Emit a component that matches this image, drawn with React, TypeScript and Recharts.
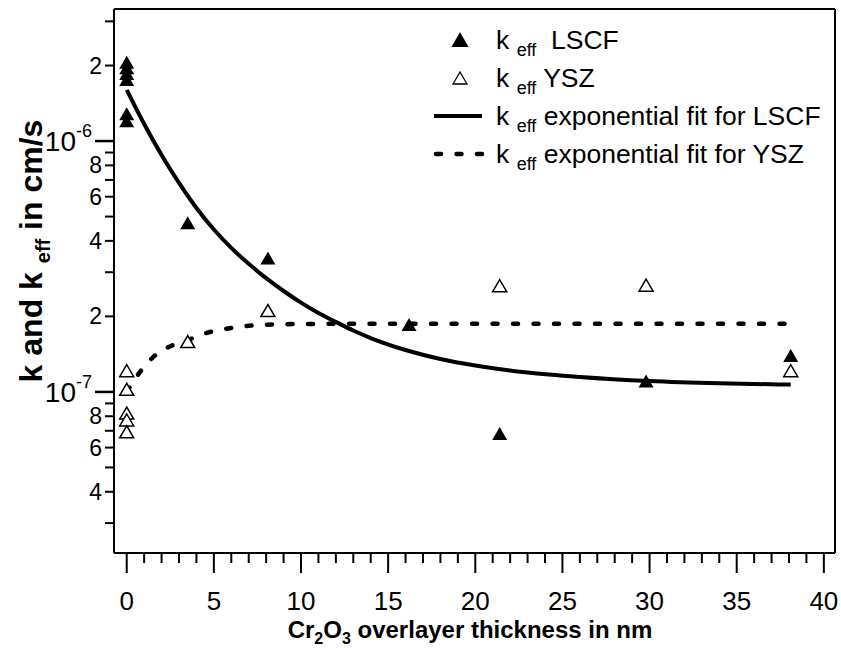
import React from "react";
import { ComposedChart, Scatter, Line, XAxis, YAxis, Legend, Label } from "recharts";

const FONT = '"Liberation Sans", Arial, Helvetica, sans-serif';

// measured k_eff values (cm/s) against Cr2O3 thickness (nm)
const lscfThickness = [0, 0, 0, 0, 0, 0, 3.5, 8.1, 16.2, 21.4, 29.8, 38.1];
const lscfK = [2.05e-6, 1.95e-6, 1.85e-6, 1.75e-6, 1.28e-6, 1.2e-6, 4.7e-7, 3.4e-7, 1.85e-7, 6.8e-8, 1.1e-7, 1.39e-7];
const yszThickness = [0, 0, 0, 0, 0, 3.5, 8.1, 21.4, 29.8, 38.1];
const yszK = [1.21e-7, 1.02e-7, 8.2e-8, 7.7e-8, 6.9e-8, 1.58e-7, 2.1e-7, 2.64e-7, 2.65e-7, 1.21e-7];

// exponential fits
const fitLscfThickness = [0, 1, 2, 3, 4, 5, 6, 7, 8, 9, 10, 11, 12, 13, 14, 16, 18, 20, 23, 26, 30, 34, 38.1];
const fitLscfK = [
  1.6e-6, 1.17e-6, 8.8e-7, 6.81e-7, 5.41e-7, 4.44e-7, 3.75e-7, 3.24e-7, 2.84e-7, 2.525e-7, 2.27e-7, 2.064e-7,
  1.9e-7, 1.757e-7, 1.64e-7, 1.469e-7, 1.353e-7, 1.274e-7, 1.195e-7, 1.147e-7, 1.105e-7, 1.082e-7, 1.07e-7,
];
const fitYszThickness = [0, 0.8, 1.8, 2.7, 3.6, 4.6, 5.8, 6.8, 7.8, 10, 13, 20, 30, 38.1];
const fitYszK = [1.0e-7, 1.21e-7, 1.43e-7, 1.54e-7, 1.62e-7, 1.72e-7, 1.79e-7, 1.83e-7, 1.85e-7, 1.865e-7, 1.87e-7, 1.87e-7, 1.87e-7, 1.87e-7];

const xTicks = Array.from({ length: 41 }, (_, i) => i);
const xTickLabels = [0, 5, 10, 15, 20, 25, 30, 35, 40];
const yTicks = [3e-8, 4e-8, 5e-8, 6e-8, 7e-8, 8e-8, 9e-8, 1e-7, 2e-7, 3e-7, 4e-7, 5e-7, 6e-7, 7e-7, 8e-7, 9e-7, 1e-6, 2e-6, 3e-6];
const yTickLabels = ["", "4", "", "6", "", "8", "", "10^-7", "2", "", "4", "", "6", "", "8", "", "10^-6", "2", ""];

const toRows = (xs: number[], ks: number[]) => xs.map((x, i) => ({ x, k: ks[i] }));
const lscfData = toRows(lscfThickness, lscfK);
const yszData = toRows(yszThickness, yszK);
const fitLscfData = toRows(fitLscfThickness, fitLscfK);
const fitYszData = toRows(fitYszThickness, fitYszK);

const FilledTriangle = (props: any) => {
  const { cx, cy } = props;
  if (cx == null || cy == null) return null;
  return <polygon points={`${cx},${cy - 7} ${cx - 7.5},${cy + 6} ${cx + 7.5},${cy + 6}`} fill="#000" />;
};

const OpenTriangle = (props: any) => {
  const { cx, cy } = props;
  if (cx == null || cy == null) return null;
  return (
    <polygon
      points={`${cx},${cy - 6.5} ${cx - 7},${cy + 5.5} ${cx + 7},${cy + 5.5}`}
      fill="#fff"
      stroke="#000"
      strokeWidth={1.5}
    />
  );
};

const YTick = ({ x, y, payload }: any) => {
  const label = yTickLabels[yTicks.indexOf(payload.value)] || "";
  const decade = label.startsWith("10^");
  const len = decade ? 19 : 9;
  return (
    <g>
      <line x1={x - len} y1={y} x2={x} y2={y} stroke="#000" strokeWidth={decade ? 2.5 : 2} />
      {decade ? (
        <text x={x - len - 3} y={y + 10} textAnchor="end" fontFamily={FONT} fontSize={28} fill="#000">
          10
          <tspan fontSize={18} dy={-14}>
            {label.slice(3)}
          </tspan>
        </text>
      ) : label ? (
        <text x={x - len - 3} y={y + 8} textAnchor="end" fontFamily={FONT} fontSize={23} fill="#000">
          {label}
        </text>
      ) : null}
    </g>
  );
};

const XTick = ({ x, y, payload }: any) => {
  const major = xTickLabels.includes(payload.value);
  return (
    <g>
      <line x1={x} y1={y} x2={x} y2={y + (major ? 20 : 10)} stroke="#000" strokeWidth={2} />
      {major && (
        <text x={x} y={y + 57} textAnchor="middle" fontFamily={FONT} fontSize={26} fill="#000">
          {payload.value}
        </text>
      )}
    </g>
  );
};

const XTitle = () => (
  <text x={470} y={638} textAnchor="middle" fontFamily={FONT} fontSize={24} fontWeight="bold" fill="#000">
    Cr
    <tspan fontSize={16} dy={6}>2</tspan>
    <tspan dy={-6}>O</tspan>
    <tspan fontSize={16} dy={6}>3</tspan>
    <tspan dy={-6}> overlayer thickness in nm</tspan>
  </text>
);

const YTitle = () => (
  <text
    transform="translate(42, 251) rotate(-90)"
    textAnchor="middle"
    fontFamily={FONT}
    fontSize={32}
    fontWeight="bold"
    fill="#000"
  >
    k and k{" "}
    <tspan fontSize={20} dy={8}>eff</tspan>
    <tspan dy={-8}> in cm/s</tspan>
  </text>
);

const legendRows = [
  { kind: "filled", text: "\u00a0 LSCF" },
  { kind: "open", text: " YSZ" },
  { kind: "solid", text: " exponential fit for LSCF" },
  { kind: "dashed", text: " exponential fit for YSZ" },
];

const LegendMark = ({ kind }: { kind: string }) => (
  <svg width={56} height={30} style={{ display: "block" }}>
    {kind === "filled" && <polygon points="28,7 19.5,22 36.5,22" fill="#000" />}
    {kind === "open" && <polygon points="28,9 21,21 35,21" fill="#fff" stroke="#000" strokeWidth={1.3} />}
    {kind === "solid" && <line x1={2} y1={15} x2={50} y2={15} stroke="#000" strokeWidth={4} />}
    {kind === "dashed" && (
      <line x1={4} y1={15} x2={51} y2={15} stroke="#000" strokeWidth={4.5} strokeDasharray="5 15.5" strokeLinecap="round" />
    )}
  </svg>
);

const renderLegend = () => (
  <div style={{ fontFamily: FONT, fontSize: 26.5, color: "#000", lineHeight: "38px" }}>
    {legendRows.map((r) => (
      <div key={r.kind} style={{ display: "flex", alignItems: "center", height: 38, whiteSpace: "nowrap" }}>
        <LegendMark kind={r.kind} />
        <span style={{ marginLeft: 8 }}>
          k <sub style={{ fontSize: 18, verticalAlign: "-7px", lineHeight: 0 }}>eff</sub>
          {r.text}
        </span>
      </div>
    ))}
  </div>
);

export default function App() {
  return (
    <div style={{ position: "absolute", left: 0, top: 0, width: 841, height: 648, background: "#fff" }}>
      <ComposedChart width={841} height={648} margin={{ top: 8, right: 5, bottom: 25, left: 14 }}>
        <XAxis
          dataKey="x"
          type="number"
          domain={[-0.73, 40.64]}
          ticks={xTicks}
          interval={0}
          allowDataOverflow
          height={70}
          tickSize={0}
          tickMargin={0}
          tickLine={false}
          tick={<XTick />}
          axisLine={{ stroke: "#000", strokeWidth: 2 }}
        >
          <Label content={<XTitle />} />
        </XAxis>
        <XAxis
          xAxisId="top"
          orientation="top"
          type="number"
          domain={[0, 1]}
          height={1}
          tick={false}
          tickLine={false}
          axisLine={{ stroke: "#000", strokeWidth: 2 }}
        />
        <YAxis
          type="number"
          scale="log"
          domain={[2.28e-8, 3.36e-6]}
          ticks={yTicks}
          interval={0}
          allowDataOverflow
          width={100}
          tickSize={0}
          tickMargin={0}
          tickLine={false}
          tick={<YTick />}
          axisLine={{ stroke: "#000", strokeWidth: 2 }}
        >
          <Label content={<YTitle />} />
        </YAxis>
        <YAxis
          yAxisId="right"
          orientation="right"
          type="number"
          domain={[0, 1]}
          width={1}
          tick={false}
          tickLine={false}
          axisLine={{ stroke: "#000", strokeWidth: 2 }}
        />
        <Legend
          layout="vertical"
          align="center"
          verticalAlign="middle"
          content={renderLegend}
          wrapperStyle={{ top: 21, left: 432, width: 405 }}
        />
        <Line
          data={fitLscfData}
          dataKey="k"
          type="monotone"
          stroke="#000"
          strokeWidth={4}
          dot={false}
          isAnimationActive={false}
        />
        <Line
          data={fitYszData}
          dataKey="k"
          type="monotone"
          stroke="#000"
          strokeWidth={4.5}
          strokeDasharray="5 15.5"
          strokeLinecap="round"
          dot={false}
          isAnimationActive={false}
        />
        <Scatter data={lscfData} dataKey="k" shape={<FilledTriangle />} isAnimationActive={false} />
        <Scatter data={yszData} dataKey="k" shape={<OpenTriangle />} isAnimationActive={false} />
      </ComposedChart>
    </div>
  );
}
